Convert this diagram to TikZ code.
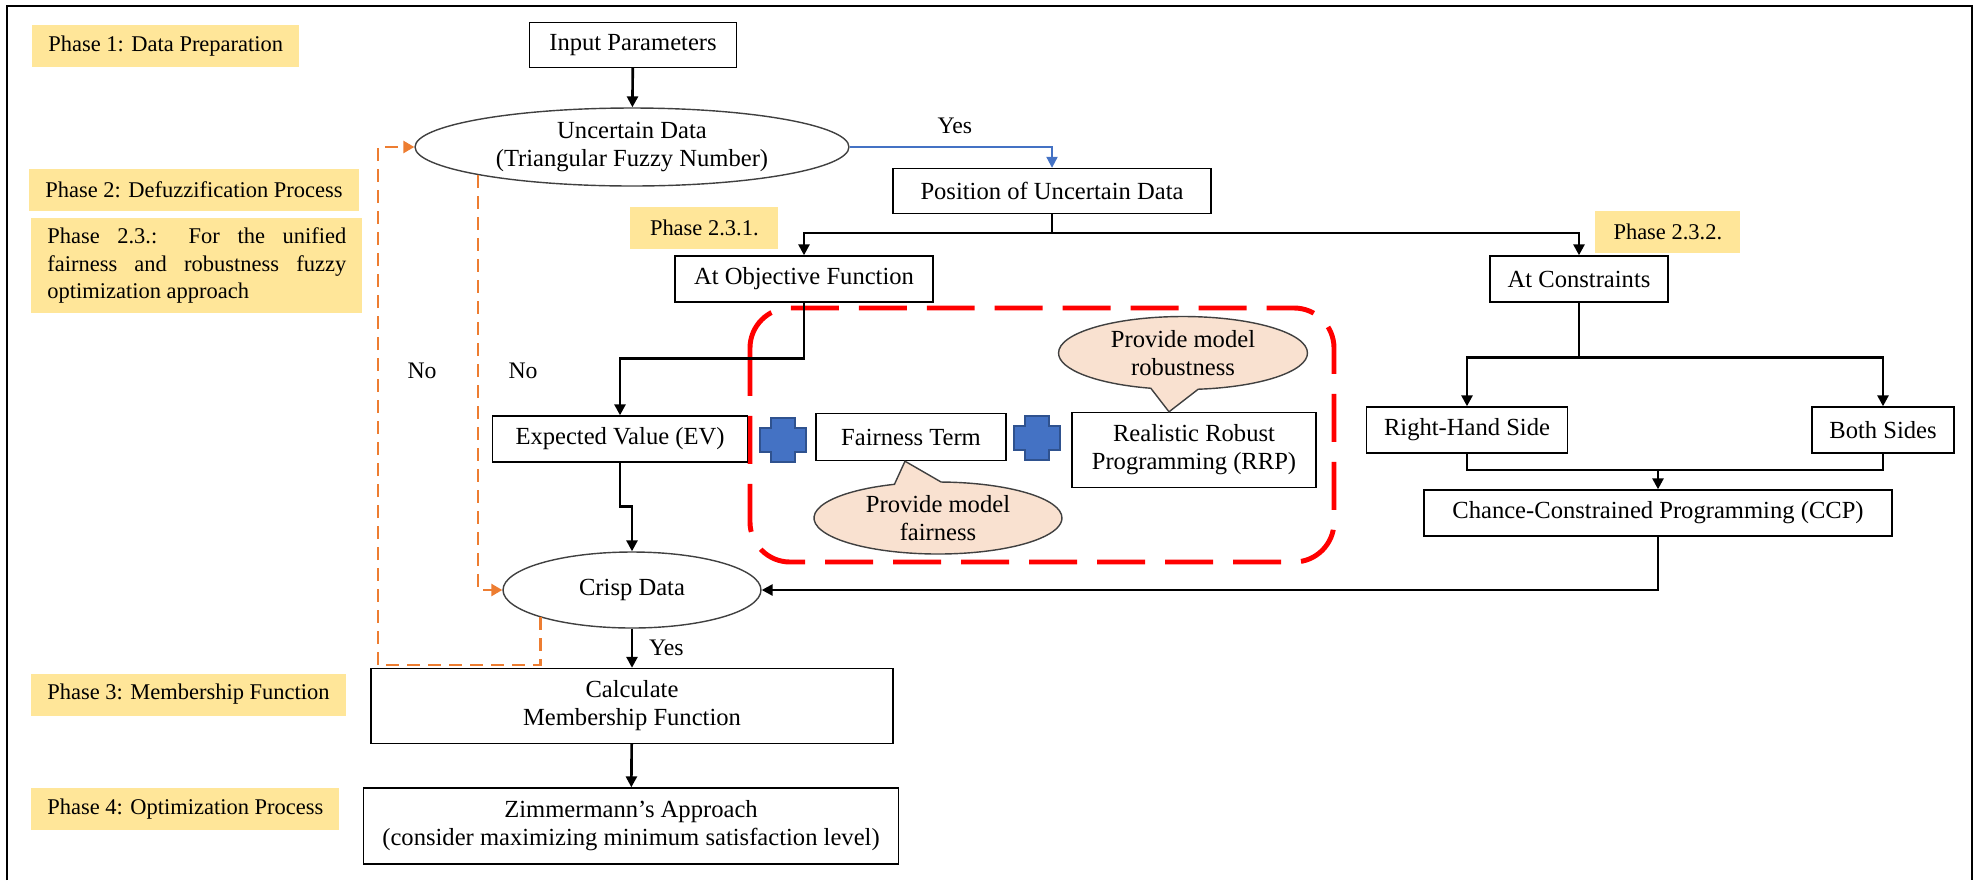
\documentclass[tikz,border=0pt]{standalone}
\usepackage{fontspec}
\setmainfont{Liberation Serif}
\usepackage{tikz}
\usetikzlibrary{positioning}
\usetikzlibrary{arrows.meta}
\usetikzlibrary{shapes.geometric}
\usetikzlibrary{shapes.callouts}
\usepackage{xcolor}
\definecolor{phaseyellow}{RGB}{255,230,153}
\definecolor{looporange}{RGB}{237,125,49}
\definecolor{yesblue}{RGB}{68,114,196}
\definecolor{plusedge}{RGB}{47,82,143}
\definecolor{bubblefill}{RGB}{249,225,208}
\definecolor{edgegray}{RGB}{64,64,64}

\begin{document}
\begin{tikzpicture}[x=0.02cm, y=-0.02cm,
  every node/.style={font=\fontsize{14}{16}\selectfont},
  box/.style={draw, line width=0.8pt, rectangle, align=center, inner sep=0pt},
  data/.style={draw=edgegray, line width=0.8pt, ellipse, align=center, inner sep=0pt},
  phase/.style={fill=phaseyellow, anchor=west, inner xsep=0.32cm, minimum height=0.84cm, font=\fontsize{12.8}{15.4}\selectfont},
  bubble/.style={ellipse callout, draw=edgegray, line width=0.8pt, fill=bubblefill, align=center, inner sep=0pt, callout pointer arc=22},
  lbl/.style={font=\fontsize{13.5}{16}\selectfont},
  flow/.style={line width=1.5pt, -{Triangle[length=0.22cm, width=0.22cm]}},
  yesflow/.style={flow, draw=yesblue, line width=1.2pt},
  loopflow/.style={draw=looporange, line width=1.4pt, dash pattern=on 0.26cm off 0.16cm, -{Triangle[length=0.22cm, width=0.24cm]}},
  redgroup/.style={draw=red, line width=2.8pt, dash pattern=on 0.96cm off 0.4cm, rounded corners=0.8cm},
  plusicon/.pic={\draw[fill=yesblue, draw=plusedge, line width=0.8pt] (-23,-12) -- (-12,-12) -- (-12,-22) -- (12,-22) -- (12,-12) -- (23,-12) -- (23,12) -- (12,12) -- (12,22) -- (-12,22) -- (-12,12) -- (-23,12) -- cycle;}]
  \useasboundingbox (0,0) rectangle (1977,880);
  \draw[line width=1.5pt] (7,880) -- (7,6) -- (1972,6) -- (1972,880);

  \node[phase] (p1) at (32,46) {Phase 1: Data Preparation};
  \node[phase] (p2) at (29,190) {Phase 2: Defuzzification Process};
  \node[phase, text width=5.98cm, align=justify, inner ysep=0.21cm] (p23) at (31,265.5) {Phase 2.3.: For the unified\linebreak fairness and robustness fuzzy\linebreak optimization approach};
  \node[phase, minimum width=2.96cm] (p231) at (630,228) {Phase 2.3.1.};
  \node[phase, minimum width=2.9cm] (p232) at (1595,232) {Phase 2.3.2.};
  \node[phase] (p3) at (31,694.5) {Phase 3: Membership Function};
  \node[phase] (p4) at (31,809) {Phase 4: Optimization Process};

  \draw[redgroup] (750,308) rectangle (1334,562);

  \node[box, minimum width=4.14cm, minimum height=0.9cm] (input) at (633,45) {Input Parameters};
  \node[data, minimum width=8.68cm, minimum height=1.56cm] (uncertain) at (632,147) {Uncertain Data\\(Triangular Fuzzy Number)};
  \node[box, minimum width=6.36cm, minimum height=0.9cm] (position) at (1052,191) {Position of Uncertain Data};
  \node[box, minimum width=5.16cm, minimum height=0.92cm] (atobj) at (804,279) {At Objective Function};
  \node[box, minimum width=3.56cm, minimum height=0.92cm] (atcons) at (1579,279) {At Constraints};
  \node[box, minimum width=5.1cm, minimum height=0.92cm] (ev) at (620,439) {Expected Value (EV)};
  \node[box, minimum width=3.8cm, minimum height=0.94cm] (fair) at (911,437) {Fairness Term};
  \node[box, minimum width=4.88cm, minimum height=1.5cm] (rrp) at (1194,450) {Realistic Robust\\Programming (RRP)};
  \node[box, minimum width=4.02cm, minimum height=0.92cm] (rhs) at (1467,430) {Right-Hand Side};
  \node[box, minimum width=2.84cm, minimum height=0.92cm] (both) at (1883,430) {Both Sides};
  \node[box, minimum width=9.36cm, minimum height=0.92cm] (ccp) at (1658,513) {Chance-Constrained Programming (CCP)};
  \node[data, minimum width=5.16cm, minimum height=1.52cm] (crisp) at (632,590) {Crisp Data};
  \node[box, minimum width=10.44cm, minimum height=1.5cm] (calc) at (632,706) {Calculate\\Membership Function};
  \node[box, minimum width=10.7cm, minimum height=1.52cm] (zimm) at (631,826) {Zimmermann's Approach\\(consider maximizing minimum satisfaction level)};

  \pic at (783,440) {plusicon};
  \pic at (1037,438) {plusicon};

  \node[bubble, minimum width=4.98cm, minimum height=1.46cm, callout absolute pointer={([xshift=-0.5cm]rrp.north)}] (robustnote) at (1183,353) {Provide model\\robustness};
  \node[bubble, minimum width=4.96cm, minimum height=1.44cm, callout absolute pointer={([xshift=-0.12cm]fair.south)}] (fairnote) at (938,518) {Provide model\\fairness};

  \node[lbl] (no1) at (422,371) {No};
  \node[lbl] (no2) at (523,371) {No};

  \coordinate (split) at (1052,233);
  \coordinate (merge) at (1658,470);
  \coordinate (loopcorner) at (378,665);

  \draw[flow] (input) -- (uncertain);
  \draw[yesflow] (uncertain.east) -| node[lbl, pos=0.26, above=0.12cm] {Yes} (position.north);
  \draw[line width=1.5pt] (position.south) -- (split);
  \draw[flow] (split) -| (atobj.north);
  \draw[flow] (split) -| (atcons.north);
  \draw[flow] (atobj.south) -- ++(0,56) -| (ev.north);
  \draw[flow] (ev.south) -- ++(0,44) -| (crisp.north);
  \draw[flow] (atcons.south) -- ++(0,55) -| (rhs.north);
  \draw[flow] (atcons.south) -- ++(0,55) -| (both.north);
  \draw[line width=1.5pt] (rhs.south) |- (merge) -| (both.south);
  \draw[flow] (merge) -- (ccp.north);
  \draw[flow] (ccp.south) |- (crisp.east);
  \draw[flow] (crisp.south) -- node[lbl, right=0.2cm] {Yes} (calc.north);
  \draw[flow] (calc) -- (zimm);
  \draw[loopflow] (uncertain.south west) |- (crisp.west);
  \draw[loopflow] (crisp.south west) |- (loopcorner) |- (uncertain.west);
\end{tikzpicture}
\end{document}
